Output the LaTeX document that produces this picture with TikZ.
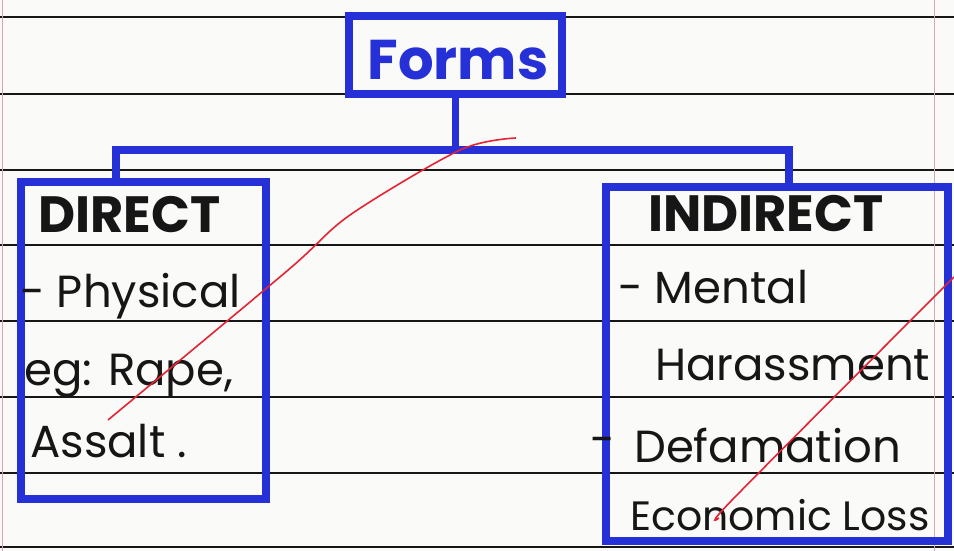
\documentclass[tikz,border=0pt]{standalone}
\usepackage{fontspec}
\setmainfont{Poppins}
\usetikzlibrary{positioning}
\definecolor{marker}{RGB}{38,48,215}
\definecolor{pen}{RGB}{22,22,22}
\definecolor{redpen}{RGB}{228,36,52}
\definecolor{paper}{RGB}{250,250,248}
\definecolor{marginred}{RGB}{215,165,175}

\begin{document}
\begin{tikzpicture}[x=1pt,y=-1pt,
    box/.style={draw=marker, line width=7.5pt, inner sep=0pt},
    wire/.style={draw=marker, line width=7.5pt},
    rule/.style={draw=pen, line width=1.8pt},
    item/.style={anchor=base west, inner sep=0pt, text=pen, font=\fontsize{45}{45}\selectfont},
    head/.style={anchor=base west, inner sep=0pt, text=pen, font=\fontsize{51}{51}\selectfont\bfseries},
    strike/.style={draw=redpen, line width=1.6pt}]

    % paper
    \fill[paper] (0,0) rectangle (954,551);
    \useasboundingbox (0,0) rectangle (954,551);
    \foreach \y in {17,94,170,245,321,397,473,547}
        \draw[rule] (0,\y) -- (954,\y);
    \draw[marginred, line width=1pt] (934,0) -- (934,551);
    \draw[marginred, line width=1pt] (2,0) -- (2,551);

    % boxes
    \node[box, minimum width=213pt, minimum height=78pt, fill=paper] (forms) at (455.5,55) {};
    \node[anchor=base, text=marker, inner sep=0pt, font=\fontsize{56}{56}\selectfont\bfseries] (formstext) at (458,80) {Forms};

    \node[box, minimum width=245pt, minimum height=317pt] (direct) at (143.5,340.5) {};
    \node[box, minimum width=342pt, minimum height=354pt] (indirect) at (777,364) {};

    \coordinate (forkL) at (116,150);
    \coordinate (forkR) at (789,150);
    \draw[wire] (forms.south) |- (forkL) -- (forkL |- direct.north);
    \draw[wire] (forms.south) |- (forkR) -- (forkR |- indirect.north);

    % direct
    \node[head] (dir) at (38,232) {DIRECT};
    \node[item] (phys) at (20,307) {- Physical};
    \node[item] (eg) at (24,385) {eg: Rape,};
    \node[item] (assalt) at (30,457) {Assalt .};

    % indirect
    \node[head] (indir) at (648,231) {INDIRECT};
    \node[item] (mental) at (618,303) {- Mental};
    \node[item] (harass) at (655,380) {Harassment};
    \node[item] (dashdef) at (590,455) {-};
    \node[item] (defam) at (634,462) {Defamation};
    \node[item, font=\fontsize{41}{41}\selectfont] (econ) at (630,530) {Economic Loss};

    % red strokes
    \draw[strike] plot[smooth] coordinates {(108,420) (287,271) (350,215) (460,150) (516,138)};
    \draw[strike] plot[smooth] coordinates {(719,518) (735,497) (954,277)};
\end{tikzpicture}
\end{document}
